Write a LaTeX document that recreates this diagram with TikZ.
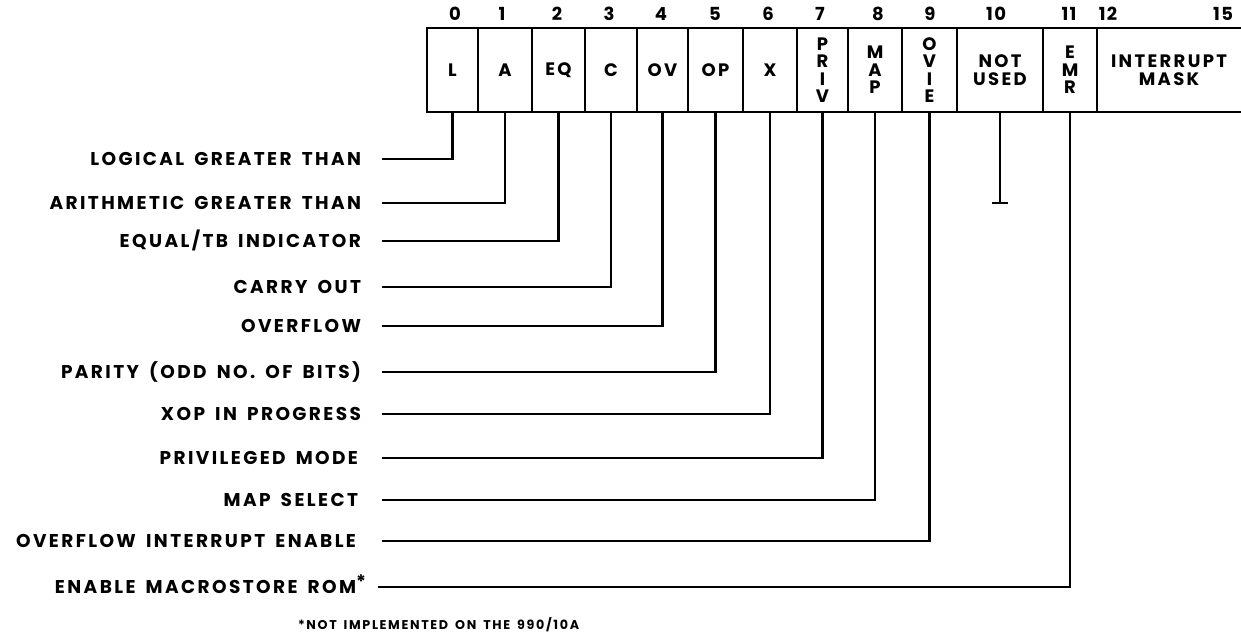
\documentclass[tikz,border=0pt]{standalone}
\usepackage{fontspec}
\setmainfont{Poppins}[LetterSpace=8]
\newfontfamily\widefont{Poppins}[LetterSpace=13, WordSpace=1.6]
\begin{document}
\begin{tikzpicture}[x=1pt,y=-1pt,
  every node/.style={inner sep=0pt, outer sep=0pt},
  txt/.style={font=\widefont\bfseries\fontsize{18}{17.5}\selectfont},
  cell/.style={txt, draw, line width=2.6pt, minimum height=84pt, anchor=north west, align=center},
  opencell/.style={txt, minimum height=84pt, anchor=north west, align=center},
  lab/.style={font=\widefont\bfseries\fontsize{18.5}{22}\selectfont, anchor=east, text height=13pt, text depth=0pt},
  bitno/.style={font=\bfseries\fontsize{18}{20}\selectfont},
  wire/.style={line width=2.2pt},
  frame/.style={line width=2.6pt},
  foot/.style={font=\widefont\bfseries\fontsize{12.7}{15}\selectfont, anchor=west}]
\useasboundingbox (0,0) rectangle (1241,635);

% register cells
\node[cell, minimum width=51pt] (c0) at (427,28) {L};
\node[cell, minimum width=54pt] (c1) at (478,28) {A};
\node[cell, minimum width=53pt] (c2) at (532,28) {EQ};
\node[cell, minimum width=52pt] (c3) at (585,28) {C};
\node[cell, minimum width=51pt] (c4) at (637,28) {OV};
\node[cell, minimum width=55pt] (c5) at (688,28) {OP};
\node[cell, minimum width=54pt] (c6) at (743,28) {X};
\node[cell, minimum width=51pt] (c7) at (797,28) {P\\R\\I\\V};
\node[cell, minimum width=54pt] (c8) at (848,28) {M\\A\\P};
\node[cell, minimum width=55pt] (c9) at (902,28) {O\\V\\I\\E};
\node[cell, minimum width=86pt] (c10) at (957,28) {NOT\\USED};
\node[cell, minimum width=54pt] (c11) at (1043,28) {E\\M\\R};
\node[opencell, minimum width=144pt] (c12) at (1097,28) {INTERRUPT\\MASK};
\draw[frame] (c12.north west) -- (c12.north east);
\draw[frame] (c12.south west) -- (c12.south east);

% bit numbers
\node[bitno] (n0) at (455,14) {0};
\node[bitno] (n1) at (502,14) {1};
\node[bitno] (n2) at (557,14) {2};
\node[bitno] (n3) at (609,14) {3};
\node[bitno] (n4) at (661,14) {4};
\node[bitno] (n5) at (715,14) {5};
\node[bitno] (n6) at (768,14) {6};
\node[bitno] (n7) at (820,14) {7};
\node[bitno] (n8) at (878,14) {8};
\node[bitno] (n9) at (930,14) {9};
\node[bitno] (n10) at (996,14) {10};
\node[bitno] (n11) at (1069,14) {11};
\node[bitno] (n12) at (1108,14) {12};
\node[bitno] (n15) at (1223,14) {15};

% labels
\node[lab] (l0) at (361,159) {LOGICAL GREATER THAN};
\node[lab] (l1) at (361,203) {ARITHMETIC GREATER THAN};
\node[lab] (l2) at (361,241) {EQUAL/TB INDICATOR};
\node[lab] (l3) at (361,287) {CARRY OUT};
\node[lab] (l4) at (361,326) {OVERFLOW};
\node[lab] (l5) at (361,372) {PARITY (ODD NO. OF BITS)};
\node[lab] (l6) at (361,414) {XOP IN PROGRESS};
\node[lab] (l7) at (358,458) {PRIVILEGED MODE};
\node[lab] (l8) at (358,500) {MAP SELECT};
\node[lab] (l9) at (356,541) {OVERFLOW INTERRUPT ENABLE};
\node[lab] (l11) at (366,587) {ENABLE MACROSTORE ROM\raisebox{5pt}{*}};

% connectors
\draw[wire] ([xshift=21pt]l0.east) -| (c0.south);
\draw[wire] ([xshift=21pt]l1.east) -| (c1.south);
\draw[wire] ([xshift=21pt]l2.east) -| (c2.south);
\draw[wire] ([xshift=21pt]l3.east) -| (c3.south);
\draw[wire] ([xshift=21pt]l4.east) -| (c4.south);
\draw[wire] ([xshift=21pt]l5.east) -| (c5.south);
\draw[wire] ([xshift=21pt]l6.east) -| (c6.south);
\draw[wire] ([xshift=24pt]l7.east) -| (c7.south);
\draw[wire] ([xshift=24pt]l8.east) -| (c8.south);
\draw[wire] ([xshift=26pt]l9.east) -| (c9.south);
\draw[wire] ([xshift=12pt]l11.east) -| (c11.south);

% not used stub
\draw[wire] (c10.south) -- ++(0,91) coordinate (nu);
\draw[wire] ([xshift=-8pt]nu) -- ([xshift=8pt]nu);

% footnote
\node[foot] (fn) at (298,625) {*NOT IMPLEMENTED ON THE 990/10A};
\end{tikzpicture}
\end{document}
